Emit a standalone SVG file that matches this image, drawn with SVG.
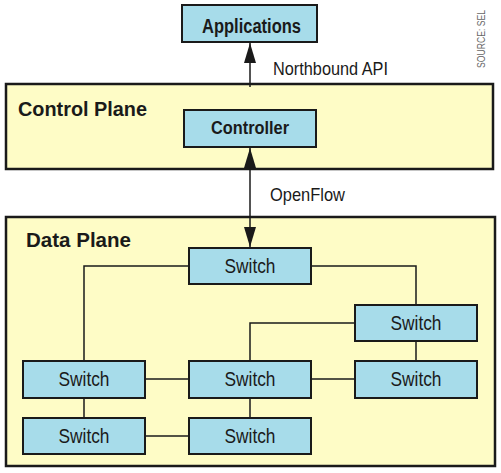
<svg xmlns="http://www.w3.org/2000/svg" width="501" height="473" viewBox="0 0 501 473">
<defs>
<style>
.plane{fill:#FEFCC6;stroke:#1a1a1a;stroke-width:2.5}
.box{fill:#A7DCEA;stroke:#1a1a1a;stroke-width:2}
.b{font-family:"Liberation Sans",Arial,sans-serif;font-weight:bold;fill:#1a1a1a}
.r{font-family:"Liberation Sans",Arial,sans-serif;fill:#1a1a1a}
.sw{font-family:"Liberation Sans",Arial,sans-serif;font-size:21px;fill:#1a1a1a;text-anchor:middle}
.ln{fill:none;stroke:#1a1a1a;stroke-width:1.5}
</style>
<marker id="ah" viewBox="0 0 20 12" refX="20" refY="6" markerWidth="20" markerHeight="12" markerUnits="userSpaceOnUse" orient="auto">
<path d="M0,0 L20,6 L0,12 Z" fill="#1a1a1a"/>
</marker>
</defs>
<rect width="501" height="473" fill="#ffffff"/>
<g id="control-plane">
<rect class="plane" x="6" y="84" width="487" height="85"/>
<text class="b" x="18" y="116" font-size="21" textLength="129" lengthAdjust="spacingAndGlyphs">Control Plane</text>
</g>
<g id="data-plane">
<rect class="plane" x="6" y="217" width="489" height="249"/>
<text class="b" x="26" y="247" font-size="21" textLength="105" lengthAdjust="spacingAndGlyphs">Data Plane</text>
</g>
<g id="connectors">
<path class="ln" d="M250,87 L250,43" marker-end="url(#ah)"/>
<path class="ln" d="M250,167 L250,148" marker-end="url(#ah)"/>
<path class="ln" d="M250,167 L250,247" marker-end="url(#ah)"/>
<path class="ln" d="M189,266 L84,266 L84,361"/>
<path class="ln" d="M311,266 L416,266 L416,305"/>
<path class="ln" d="M355,323 L250,323 L250,361"/>
<path class="ln" d="M416,341 L416,361"/>
<path class="ln" d="M145,379 L189,379"/>
<path class="ln" d="M311,379 L355,379"/>
<path class="ln" d="M84,398 L84,418"/>
<path class="ln" d="M250,398 L250,418"/>
<path class="ln" d="M145,436 L189,436"/>
<text class="r" x="273" y="75" font-size="19" textLength="115" lengthAdjust="spacingAndGlyphs">Northbound API</text>
<text class="r" x="270" y="201" font-size="19" textLength="75" lengthAdjust="spacingAndGlyphs">OpenFlow</text>
</g>
<g id="applications">
<rect class="box" x="182" y="5" width="135" height="37"/>
<text class="b" x="202" y="33" font-size="20" textLength="99" lengthAdjust="spacingAndGlyphs">Applications</text>
</g>
<g id="controller">
<rect class="box" x="184" y="110" width="132" height="37"/>
<text class="b" x="211" y="134" font-size="19" textLength="78" lengthAdjust="spacingAndGlyphs">Controller</text>
</g>
<g id="switch-top">
<rect class="box" x="189" y="248" width="122" height="36"/>
<text class="sw" x="250" y="273" textLength="51" lengthAdjust="spacingAndGlyphs">Switch</text>
</g>
<g id="switch-upper-right">
<rect class="box" x="355" y="305" width="122" height="36"/>
<text class="sw" x="416" y="330" textLength="51" lengthAdjust="spacingAndGlyphs">Switch</text>
</g>
<g id="switch-mid-left">
<rect class="box" x="23" y="361" width="122" height="37"/>
<text class="sw" x="84" y="386" textLength="51" lengthAdjust="spacingAndGlyphs">Switch</text>
</g>
<g id="switch-mid-center">
<rect class="box" x="189" y="361" width="122" height="37"/>
<text class="sw" x="250" y="386" textLength="51" lengthAdjust="spacingAndGlyphs">Switch</text>
</g>
<g id="switch-mid-right">
<rect class="box" x="355" y="361" width="122" height="37"/>
<text class="sw" x="416" y="386" textLength="51" lengthAdjust="spacingAndGlyphs">Switch</text>
</g>
<g id="switch-bottom-left">
<rect class="box" x="23" y="418" width="122" height="36"/>
<text class="sw" x="84" y="443" textLength="51" lengthAdjust="spacingAndGlyphs">Switch</text>
</g>
<g id="switch-bottom-center">
<rect class="box" x="189" y="418" width="122" height="36"/>
<text class="sw" x="250" y="443" textLength="51" lengthAdjust="spacingAndGlyphs">Switch</text>
</g>
<text class="r" transform="translate(485,68) rotate(-90)" font-size="10" style="fill:#666666" textLength="58" lengthAdjust="spacingAndGlyphs">SOURCE: SEL</text>
</svg>
